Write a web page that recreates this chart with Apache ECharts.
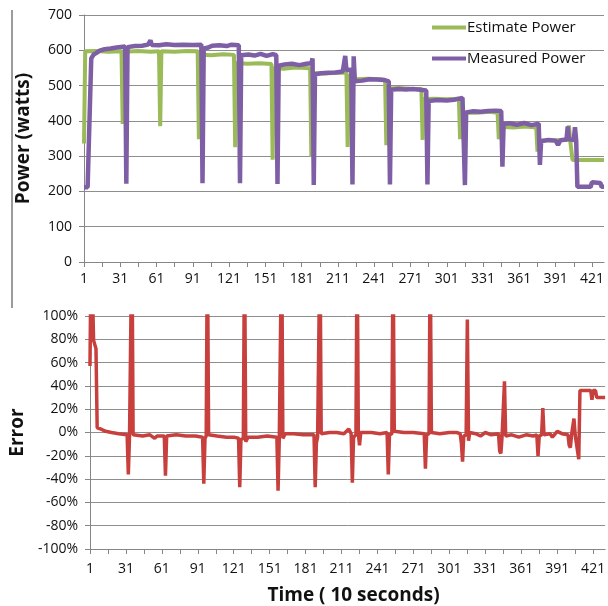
<!DOCTYPE html>
<html><head><meta charset="utf-8">
<script src="https://cdn.jsdelivr.net/npm/echarts@6/dist/echarts.min.js"></script>
<style>html,body{margin:0;padding:0;background:#fff}#c{width:608px;height:606px}</style>
</head><body><div id="c"></div>
<script>
// Time index categories (1 .. 431, one sample every 10 seconds)
const timeLabels = Array.from({length: 431}, (_, i) => String(i + 1));

// [time index (0-based), watts] at each visible change
const estimatePower = [
[0,336],[1,597],[10,598],[20,596],[31,597],[32,391],[33,596],[45,598],[55,596],[62,597],
[63,385],[64,597],[75,596],[85,598],[94,597],[95,348],[96,588],[105,586],[115,589],[124,587],
[125,325],[126,564],[135,562],[145,563],[155,561],[156,290],[157,550],[165,548],[175,551],[187,549],
[188,298],[189,535],[200,534],[210,537],[217,536],[218,326],[219,530],[223,518],[235,519],[245,518],
[249,516],[250,331],[251,492],[260,493],[270,491],[279,490],[280,346],[281,462],[290,463],[300,461],
[310,463],[311,348],[312,424],[325,423],[335,426],[342,423],[343,348],[344,383],[355,381],[365,384],
[374,381],[375,313],[376,345],[385,344],[395,346],[400,346],[401,387],[402,345],[403,345],[404,289],[430,289]
];

const measuredPower = [
[0,212],[3,212],[4,336],[5,338],[6,577],[8,588],[10,592],[13,599],[17,603],[22,605],[27,608],[34,611],
[35,222],[36,609],[42,612],[48,613],[53,616],[55,628],[56,615],[62,614],[68,617],[75,615],[82,616],[90,615],[97,616],
[98,223],[99,605],[102,607],[106,613],[112,614],[118,612],[122,616],[128,614],
[129,223],[130,586],[136,588],[141,585],[146,590],[151,584],[156,589],[159,586],
[160,221],[161,556],[166,560],[172,562],[178,558],[184,562],[188,563],[189,577],
[190,218],[191,532],[196,535],[202,536],[208,537],[214,540],[216,584],[217,544],[221,545],
[222,220],[223,583],[224,512],[230,514],[236,518],[242,517],[248,516],[252,512],
[253,220],[254,488],[260,490],[266,489],[272,490],[278,488],[283,486],
[284,220],[285,456],[292,459],[300,458],[306,460],[313,465],[314,466],
[315,218],[316,424],[322,427],[328,426],[334,428],[340,429],[345,428],
[346,270],[347,391],[352,393],[358,389],[364,394],[370,388],[376,392],
[377,275],[378,342],[384,346],[390,344],[392,332],[394,345],[399,347],[400,384],[401,348],[405,346],[406,382],[407,345],
[408,213],[419,213],[420,226],[427,224],[428,213],[430,213]
];

// [time index (0-based), error %]; values above 100 are cut off by the plot
const errorPct = [
[0,57],[1,170],[2,170],[3,79],[5,72],[6,4],[9,3],[13,1],[18,0],[24,-1],[31,-2],
[32,-36],[33,-3],[34,-2],[35,172],[36,-2],[44,-3],[50,-2],[54,-5],[56,-3],[62,-3],
[63,-37],[64,-3],[72,-2],[80,-3],[88,-3],[94,-4],
[95,-44],[96,-5],[97,-3],[98,168],[99,-2],[106,-3],[114,-4],[120,-4],[124,-5],
[125,-47],[126,-6],[128,-5],[129,166],[130,-8],[132,-4],[140,-4],[148,-3],[156,-4],
[157,-50],[158,-6],[159,-5],[160,170],[161,-5],[163,-1],[170,-1],[178,-2],[187,-2],
[188,-47],[189,-9],[190,-4],[191,-3],[192,165],[193,-1],[200,0],[206,0],[212,-1],[216,3],[218,-1],
[219,-43],[220,-4],[222,-2],[223,165],[224,-1],[225,-11],[226,0],[235,0],[242,-1],[248,0],
[249,-36],[250,-2],[252,-1],[253,162],[254,1],[262,0],[270,0],[279,-1],
[280,-31],[281,-2],[283,-1],[284,160],[285,0],[292,-1],[300,0],[306,0],[309,-1],[310,-9],
[311,-25],[312,-3],[314,-2],[315,97],[316,-7],[317,0],[322,-1],[326,-3],[330,0],[335,-2],[341,-1],
[342,-16],[343,-18],[344,-3],[345,-2],[346,44],[347,-3],[352,-2],[358,-4],[364,-2],[370,-3],[373,-2],
[374,-20],[375,-3],[377,-2],[378,21],[379,-2],[384,-1],[386,-4],[390,1],[394,-1],[399,-2],[400,-11],[401,-13],
[402,-2],[404,12],[405,-2],[406,-9],[408,-23],[409,36],[418,36],[419,28],[420,36],[422,36],[423,30],[430,30]
];

const seriesNames = ['Estimate Power', 'Measured Power', 'Error'];
const seriesColors = ['#9BBB59', '#7E5FA5', '#C8403D'];

const FONT = '"Open Sans", "Liberation Sans", sans-serif';
const AX = '#868686';
const GRIDC = '#8e8e8e';
const TXT = '#111';
const LEGEND_ICON = 'path://M0,0 L34,0 L34,4 L0,4 Z';

const catAxis = (gi, extra) => Object.assign({
  gridIndex: gi, type: 'category', data: timeLabels, boundaryGap: false,
  axisLine: {show: true, onZero: false, lineStyle: {color: AX, width: 1}},
  axisTick: {show: true, interval: 14, length: 5, lineStyle: {color: AX}},
  axisLabel: {interval: 29, fontSize: 14, color: TXT, fontFamily: FONT},
  splitLine: {show: false}
}, extra);

const valAxis = (gi, extra) => Object.assign({
  gridIndex: gi, type: 'value',
  axisLine: {show: true, lineStyle: {color: AX, width: 1}},
  axisTick: {show: true, length: 5, lineStyle: {color: AX}},
  splitLine: {show: true, lineStyle: {color: GRIDC, width: 1}},
  nameLocation: 'middle', nameRotate: 90,
  nameTextStyle: {fontSize: 19, fontWeight: 'bold', color: TXT, fontFamily: FONT}
}, extra);

const chart = echarts.init(document.getElementById('c'), null, {renderer: 'canvas'});
chart.setOption({
  animation: false,
  backgroundColor: '#fff',
  textStyle: {fontFamily: FONT},
  grid: [
    {left: 84, top: 15, width: 520, height: 247},
    {left: 84, top: 316, width: 524, height: 233}
  ],
  legend: {
    data: [
      {name: seriesNames[0], icon: LEGEND_ICON},
      {name: seriesNames[1], icon: LEGEND_ICON}
    ],
    orient: 'vertical', left: 427, top: 15,
    itemWidth: 34, itemHeight: 16, itemGap: 16,
    textStyle: {fontSize: 15, color: TXT, fontFamily: FONT, padding: [0, 0, 0, -4]}
  },
  xAxis: [
    catAxis(0, {axisLabel: {interval: 29, fontSize: 14, color: TXT, fontFamily: FONT, margin: 10}}),
    catAxis(1, {axisLabel: {interval: 29, fontSize: 14, color: TXT, fontFamily: FONT, margin: 13},
      name: 'Time ( 10 seconds)', nameLocation: 'middle', nameGap: 37,
      nameTextStyle: {fontSize: 19, fontWeight: 'bold', color: TXT, fontFamily: FONT, padding: [0, 0, 0, 12]}})
  ],
  yAxis: [
    valAxis(0, {min: 0, max: 700, interval: 100, name: 'Power (watts)', nameGap: 51,
      axisLabel: {fontSize: 14, color: TXT, fontFamily: FONT, margin: 12}}),
    valAxis(1, {min: -100, max: 100, interval: 20, name: 'Error', nameGap: 51,
      axisLabel: {fontSize: 14, color: TXT, fontFamily: FONT, margin: 12, formatter: '{value}%'}})
  ],
  graphic: [
    {type: 'line', shape: {x1: 12, y1: 10, x2: 12, y2: 308}, style: {stroke: '#7a7a7a', lineWidth: 1.5}}
  ],
  series: [
    {name: seriesNames[0], type: 'line', xAxisIndex: 0, yAxisIndex: 0, data: estimatePower,
      symbol: 'none', clip: true, color: seriesColors[0],
      lineStyle: {color: seriesColors[0], width: 4}},
    {name: seriesNames[1], type: 'line', xAxisIndex: 0, yAxisIndex: 0, data: measuredPower,
      symbol: 'none', clip: true, color: seriesColors[1],
      lineStyle: {color: seriesColors[1], width: 4.5}},
    {name: seriesNames[2], type: 'line', xAxisIndex: 1, yAxisIndex: 1, data: errorPct,
      symbol: 'none', clip: true, color: seriesColors[2],
      lineStyle: {color: seriesColors[2], width: 3.5}}
  ]
});
</script>
</body></html>
